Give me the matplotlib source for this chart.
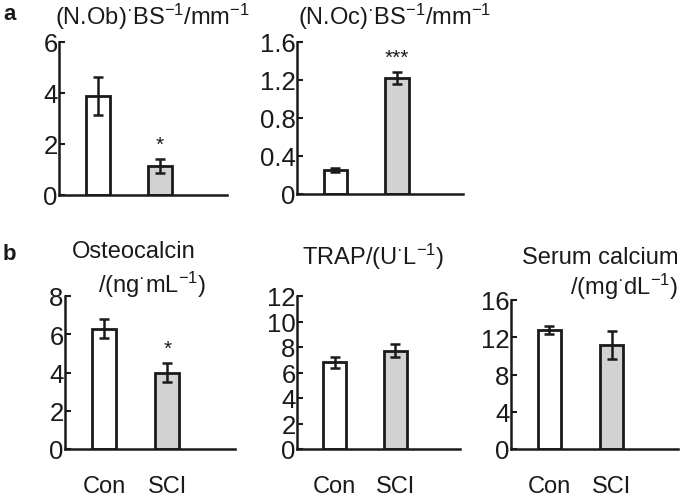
import matplotlib
matplotlib.use('Agg')
from matplotlib import pyplot as plt

plt.rcParams['font.family'] = ['Liberation Sans', 'DejaVu Sans']
plt.rcParams['mathtext.default'] = 'regular'

groups = ['Con', 'SCI']

# panel a
ob_mean = [3.87, 1.15]
ob_err = [0.75, 0.27]
oc_mean = [0.256, 1.22]
oc_err = [0.02, 0.065]

# panel b
osteo_mean = [6.3, 4.0]
osteo_err = [0.5, 0.5]
trap_mean = [6.8, 7.7]
trap_err = [0.45, 0.5]
ca_mean = [12.8, 11.2]
ca_err = [0.4, 1.5]

colors = ['white', '#d2d2d2']
W, H = 685, 502
tc = '#1a1a1a'

fig = plt.figure(figsize=(6.85, 5.02), dpi=100)


def panel(px, mean, err, ymax, yticks, yticklabels, star=None, show_x=False):
    left, right, top, bottom = px
    ax = fig.add_axes([left / W, 1 - bottom / H, (right - left) / W, (bottom - top) / H])
    x = [0, 1]
    ax.bar(x, mean, width=0.38, color=colors, edgecolor=tc, linewidth=2, zorder=2)
    ax.errorbar(x, mean, yerr=err, fmt='none', ecolor=tc, elinewidth=1.8,
                capsize=3.5, capthick=1.8, zorder=3)
    ax.set_xlim(-0.62, 2.07)
    ax.set_ylim(0, ymax)
    ax.set_yticks(yticks)
    ax.set_yticklabels(yticklabels, fontsize=18.5)
    for s in ['top', 'right']:
        ax.spines[s].set_visible(False)
    for s in ['left', 'bottom']:
        ax.spines[s].set_linewidth(1.8)
        ax.spines[s].set_color(tc)
    ax.tick_params(axis='y', direction='in', length=4, width=1.5, pad=1, colors=tc)
    if show_x:
        ax.set_xticks(x)
        ax.set_xticklabels(groups, fontsize=17)
        ax.tick_params(axis='x', length=0, pad=19, colors=tc)
    else:
        ax.set_xticks([])
    if star is not None:
        i, txt = star
        ax.text(x[i], mean[i] + err[i] + ymax * 0.035, txt, ha='center', va='bottom',
                fontsize=15, color=tc)
    return ax


panel((59, 227, 43, 196), ob_mean, ob_err, 6, [0, 2, 4, 6], ['0', '2', '4', '6'],
      star=(1, '*'))
panel((297, 463, 43, 195), oc_mean, oc_err, 1.6, [0, 0.4, 0.8, 1.2, 1.6],
      ['0', '0.4', '0.8', '1.2', '1.6'], star=(1, '***'))
panel((65, 235, 297, 450), osteo_mean, osteo_err, 8, [0, 2, 4, 6, 8],
      ['0', '2', '4', '6', '8'], star=(1, '*'), show_x=True)
panel((297, 460, 297, 450), trap_mean, trap_err, 12, [0, 2, 4, 6, 8, 10, 12],
      ['0', '2', '4', '6', '8', '10', '12'], show_x=True)
panel((511, 678, 301, 450), ca_mean, ca_err, 16, [0, 4, 8, 12, 16],
      ['0', '4', '8', '12', '16'], show_x=True)

fs = 17
fig.text(55 / W, 1 - 17 / H, r'(N.Ob)$^{·}$BS$^{-1}$/mm$^{-1}$', ha='left', va='center', fontsize=fs, color=tc)
fig.text(298 / W, 1 - 17 / H, r'(N.Oc)$^{·}$BS$^{-1}$/mm$^{-1}$', ha='left', va='center', fontsize=fs, color=tc)
fig.text(72 / W, 1 - 252 / H, 'Osteocalcin', ha='left', va='center', fontsize=fs, color=tc)
fig.text(98 / W, 1 - 285 / H, r'/(ng$^{·}$mL$^{-1}$)', ha='left', va='center', fontsize=fs, color=tc)
fig.text(302 / W, 1 - 257 / H, r'TRAP/(U$^{·}$L$^{-1}$)', ha='left', va='center', fontsize=fs, color=tc)
fig.text(678 / W, 1 - 258 / H, 'Serum calcium', ha='right', va='center', fontsize=fs, color=tc)
fig.text(678 / W, 1 - 287 / H, r'/(mg$^{·}$dL$^{-1}$)', ha='right', va='center', fontsize=fs, color=tc)

fig.text(3 / W, 1 - 14 / H, 'a', ha='left', va='center', fontsize=16, fontweight='bold', color=tc)
fig.text(3 / W, 1 - 255 / H, 'b', ha='left', va='center', fontsize=16, fontweight='bold', color=tc)

fig.savefig('out.png', dpi=100)
